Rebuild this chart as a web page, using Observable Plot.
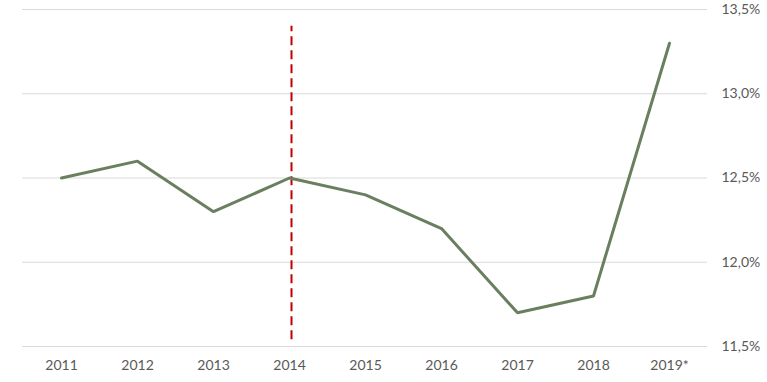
<!DOCTYPE html>
<html><head><meta charset="utf-8">
<script src="https://cdn.jsdelivr.net/npm/d3@7"></script>
<script src="https://cdn.jsdelivr.net/npm/@observablehq/plot@0.6"></script>
<style>body{margin:0;background:#fff}</style>
</head><body><div id="chart"></div>
<script>
const years = ["2011","2012","2013","2014","2015","2016","2017","2018","2019*"];
const values = [12.5,12.6,12.3,12.5,12.4,12.2,11.7,11.8,13.3];
const yTicks = [11.5,12.0,12.5,13.0,13.5];
const markerYear = "2014";
const markerRange = [11.54, 13.4];

const data = years.map((y,i)=>({year:y, value:values[i]}));
const fmt = v => v.toFixed(1).replace(".", ",") + "%";

const chart = Plot.plot({
  width: 767, height: 382,
  marginLeft: 22, marginRight: 60, marginTop: 9, marginBottom: 36,
  style: {fontFamily: "Lato, 'Open Sans', sans-serif", fontSize: "14px", color: "#595959", background: "#fff"},
  x: {type: "point", domain: years, padding: 0.5, label: null, tickSize: 0, tickPadding: 14},
  y: {domain: [11.5, 13.5], ticks: yTicks, label: null, tickFormat: fmt, tickSize: 0, tickPadding: 14},
  marks: [
    Plot.gridY(yTicks, {stroke: "#d9d9d9", strokeOpacity: 1, strokeWidth: 1}),
    Plot.axisY({anchor: "right", ticks: yTicks, tickFormat: fmt, tickSize: 0, tickPadding: 14, label: null, fill: "#595959"}),
    Plot.axisX({tickSize: 0, tickPadding: 14, label: null, fill: "#595959"}),
    Plot.ruleX([markerYear], {y1: markerRange[0], y2: markerRange[1], dx: 2, stroke: "#c00000", strokeWidth: 2, strokeDasharray: "9,5"}),
    Plot.line(data, {x: "year", y: "value", stroke: "#6a7f5f", strokeWidth: 3, strokeLinejoin: "miter"})
  ]
});
document.getElementById("chart").append(chart);
</script></body></html>
